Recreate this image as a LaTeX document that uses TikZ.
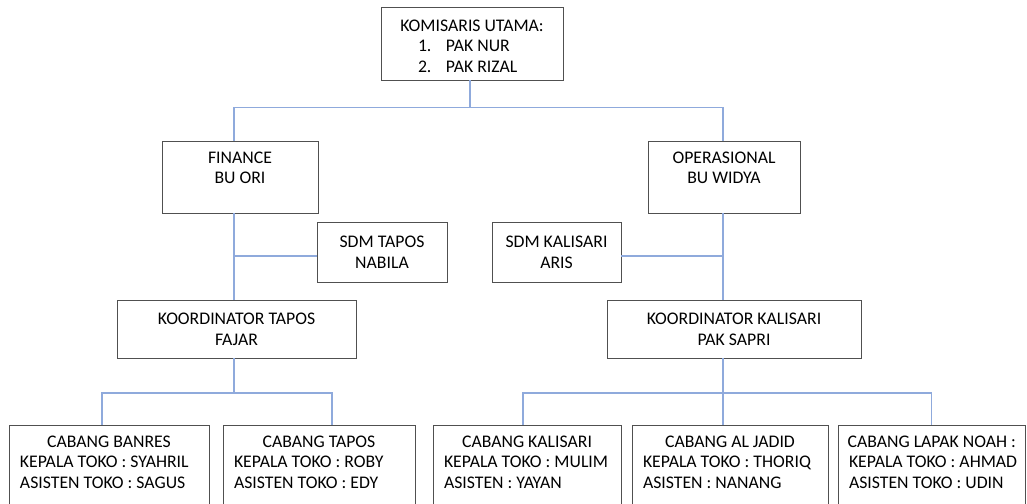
\documentclass[tikz,border=0pt]{standalone}
\usepackage{fontspec}
\setmainfont{Carlito}
\usetikzlibrary{positioning}

\definecolor{linkblue}{RGB}{143,170,220}
\definecolor{boxgray}{RGB}{80,80,80}

% box contents: width, height, top pad, text
\newcommand{\toptext}[4]{\parbox[c][#2][t]{#1}{\centering\vspace*{#3}#4}}
\newcommand{\midtext}[3]{\parbox[c][#2][c]{#1}{\centering #3}}
% branch box: width, name, first line, second line
\newcommand{\branchtext}[4]{\toptext{#1}{120bp}{10.5bp}{#2\par\raggedright\leftskip=11bp #3\\#4}}

\begin{document}
\begin{tikzpicture}[x=1bp,y=-1bp,
    box/.style={draw=boxgray,line width=0.9bp,fill=white,inner sep=0pt,font=\fontsize{17.8}{20.8}\selectfont},
    link/.style={draw=linkblue,line width=1.1bp}]
\path[use as bounding box,clip] (0,0) rectangle (1027,504);

\coordinate (lspine) at (234,0);
\coordinate (rspine) at (723,0);
\coordinate (lowbus) at (0,393);

% top
\node[box] (kom) at (472,43.5) {\toptext{182bp}{73bp}{12.5bp}{KOMISARIS UTAMA:\par\raggedright
    \hspace*{37bp}\makebox[28bp][l]{1.}PAK NUR\\\hspace*{37bp}\makebox[28bp][l]{2.}PAK RIZAL}};

% second level
\node[box] (fin) at (240,177) {\toptext{156bp}{72bp}{10.5bp}{FINANCE\\BU ORI}};
\node[box] (ops) at (724,177) {\toptext{152bp}{72bp}{10.5bp}{OPERASIONAL\\BU WIDYA}};
\node[box] (sdmt) at (382,252) {\midtext{130bp}{60bp}{SDM TAPOS\\NABILA}};
\node[box] (sdmk) at (556.5,252) {\midtext{129bp}{60bp}{SDM KALISARI\\ARIS}};
\node[box] (kt) at (236.5,329) {\midtext{239bp}{58bp}{KOORDINATOR TAPOS\\FAJAR}};
\node[box] (kk) at (734,329) {\midtext{254bp}{58bp}{KOORDINATOR KALISARI\\PAK SAPRI}};

% branches
\node[box] (b1) at (109,485) {\branchtext{200bp}{CABANG BANRES}{KEPALA TOKO : SYAHRIL}{ASISTEN TOKO : SAGUS}};
\node[box] (b2) at (319,485) {\branchtext{192bp}{CABANG TAPOS}{KEPALA TOKO : ROBY}{ASISTEN TOKO : EDY}};
\node[box] (b3) at (527,485) {\branchtext{188bp}{CABANG KALISARI}{KEPALA TOKO : MULIM}{ASISTEN : YAYAN}};
\node[box] (b4) at (730,485) {\branchtext{196bp}{CABANG AL JADID}{KEPALA TOKO : THORIQ}{ASISTEN : NANANG}};
\node[box] (b5) at (931.75,485) {\branchtext{187.5bp}{CABANG LAPAK NOAH :}{KEPALA TOKO : AHMAD}{ASISTEN TOKO : UDIN}};

% connectors
\draw[link] ([xshift=-2bp]kom.south) -- ++(0,27) coordinate (topbus);
\draw[link] (fin.north -| lspine) |- (topbus) -| (ops.north -| rspine);
\draw[link] (fin.south -| lspine) -- (kt.north -| lspine);
\draw[link] ([yshift=-4bp]sdmt.west) -- ([yshift=-4bp]sdmt.west -| lspine);
\draw[link] (ops.south -| rspine) -- (kk.north -| rspine);
\draw[link] ([yshift=-4bp]sdmk.east) -- ([yshift=-4bp]sdmk.east -| rspine);
\draw[link] (kt.south -| lspine) -- (lowbus -| lspine);
\draw[link] ([xshift=-7bp]b1.north) |- (lowbus -| lspine) -| ([xshift=13bp]b2.north);
\draw[link] (kk.south -| rspine) -- (lowbus -| rspine);
\draw[link] ([xshift=-4bp]b3.north) |- (lowbus -| rspine) -| (b5.north);
\draw[link] (lowbus -| rspine) -- (b4.north -| rspine);
\end{tikzpicture}
\end{document}
